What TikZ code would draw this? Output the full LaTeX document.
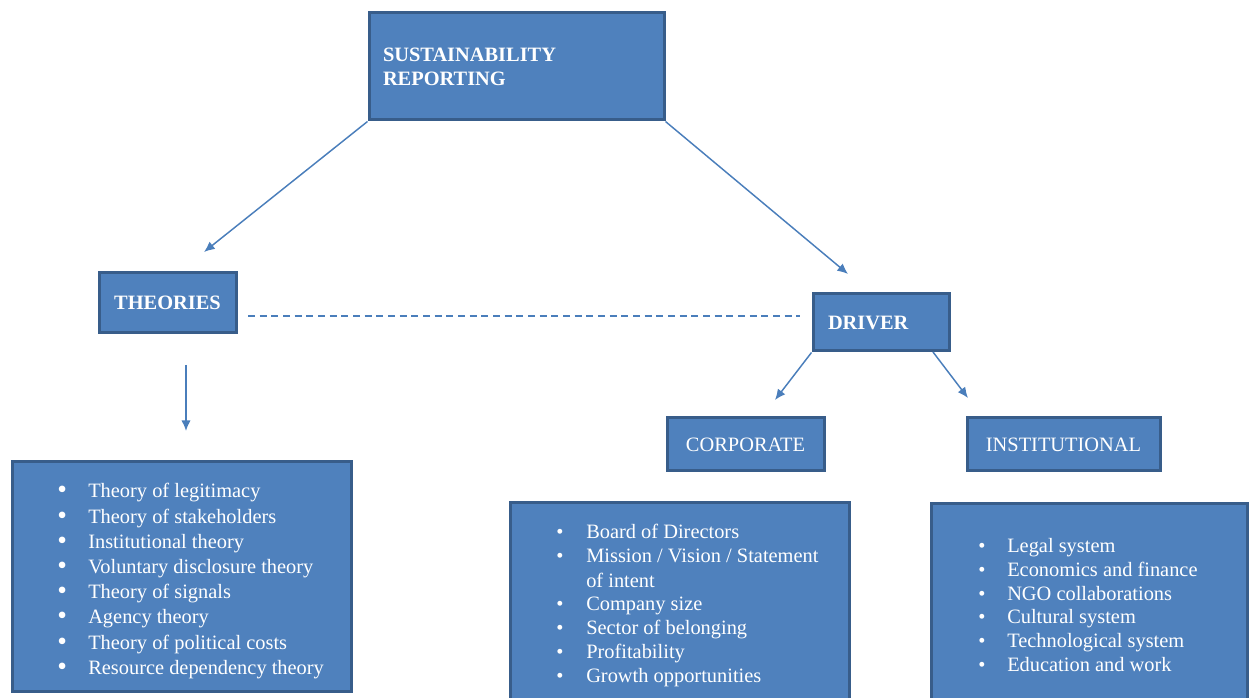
\documentclass[tikz,border=0pt]{standalone}
\usepackage{fontspec}
\setmainfont{Liberation Serif}
\usepackage{tikz}
\usetikzlibrary{arrows.meta}
\definecolor{boxfill}{HTML}{4F81BD}
\definecolor{boxline}{HTML}{385D8A}
\definecolor{linkline}{HTML}{4A7EBB}
\tikzset{>={Latex[length=8pt,width=7pt]}}
\tikzset{
  box/.style={draw=boxline, line width=2.25pt, fill=boxfill, text=white, inner sep=0pt,
    font=\fontsize{15.3}{18}\selectfont},
  titlebox/.style={box, font=\fontsize{15.3}{18}\selectfont\bfseries},
  listtext/.style={text=white, inner sep=0pt, font=\fontsize{15.3}{18}\selectfont},
  link/.style={linkline, line width=1.1pt}
}
\newcommand{\bigbul}{\raisebox{-0.1ex}{\scalebox{1.35}{\textbullet}}}
\begin{document}
\begin{tikzpicture}[x=0.75pt, y=-0.75pt]
  \useasboundingbox (0,0) rectangle (1254,698);
  % headings
  \node[titlebox, minimum width=221.25pt, minimum height=80.25pt, text width=200.25pt, align=left]
    (sr) at (516.5,66.5) {SUSTAINABILITY\\REPORTING};
  \node[titlebox, minimum width=102.75pt, minimum height=45pt] (theo) at (167.5,303) {THEORIES};
  \node[titlebox, minimum width=102pt, minimum height=42.75pt, text width=79.5pt, align=left]
    (drv) at (881,322.5) {DRIVER};
  \node[box, minimum width=117.75pt, minimum height=39.75pt] (corp) at (745.5,444.5) {CORPORATE};
  \node[box, minimum width=144.75pt, minimum height=39.75pt] (inst) at (1063.5,444.5) {INSTITUTIONAL};
  % list boxes
  \node[box, anchor=north west, minimum width=254.25pt, minimum height=172.5pt] (theobox) at (11,460) {};
  \node[box, anchor=north west, minimum width=254.25pt, minimum height=165pt] (corpbox) at (509,501) {};
  \node[box, anchor=north west, minimum width=237pt, minimum height=165pt] (instbox) at (930,502) {};
  \node[listtext, anchor=base west, font=\fontsize{15.3}{18.9}\selectfont] (theolist) at (57,498) {%
    \begin{tabular}[t]{@{}p{23.25pt}@{}l@{}}
      \bigbul & Theory of legitimacy\\
      \bigbul & Theory of stakeholders\\
      \bigbul & Institutional theory\\
      \bigbul & Voluntary disclosure theory\\
      \bigbul & Theory of signals\\
      \bigbul & Agency theory\\
      \bigbul & Theory of political costs\\
      \bigbul & Resource dependency theory
    \end{tabular}};
  \node[listtext, anchor=base west] (corplist) at (556,539) {%
    \begin{tabular}[t]{@{}p{22.5pt}@{}l@{}}
      \textbullet & Board of Directors\\
      \textbullet & Mission / Vision / Statement\\
                  & of intent\\
      \textbullet & Company size\\
      \textbullet & Sector of belonging\\
      \textbullet & Profitability\\
      \textbullet & Growth opportunities
    \end{tabular}};
  \node[listtext, anchor=base west] (instlist) at (978,552) {%
    \begin{tabular}[t]{@{}p{21.75pt}@{}l@{}}
      \textbullet & Legal system\\
      \textbullet & Economics and finance\\
      \textbullet & NGO collaborations\\
      \textbullet & Cultural system\\
      \textbullet & Technological system\\
      \textbullet & Education and work
    \end{tabular}};
  % connectors
  \coordinate (theotip) at (204,252);
  \coordinate (drvtip) at (848,274);
  \coordinate (listtop) at (186,365);
  \coordinate (listtip) at (186,431);
  \coordinate (dashl) at (248,316);
  \coordinate (dashr) at (800,316);
  \coordinate (corptip) at (775,400);
  \coordinate (drvfoot) at (933,352);
  \coordinate (insttip) at (968,398);
  \draw[link, ->] (sr.south west) -- (theotip);
  \draw[link, ->] (sr.south east) -- (drvtip);
  \draw[link, ->] (listtop) -- (listtip);
  \draw[link, dash pattern=on 5.25pt off 3.5pt] (dashl) -- (dashr);
  \draw[link, ->] (drv.south west) -- (corptip);
  \draw[link, ->] (drvfoot) -- (insttip);
\end{tikzpicture}
\end{document}
